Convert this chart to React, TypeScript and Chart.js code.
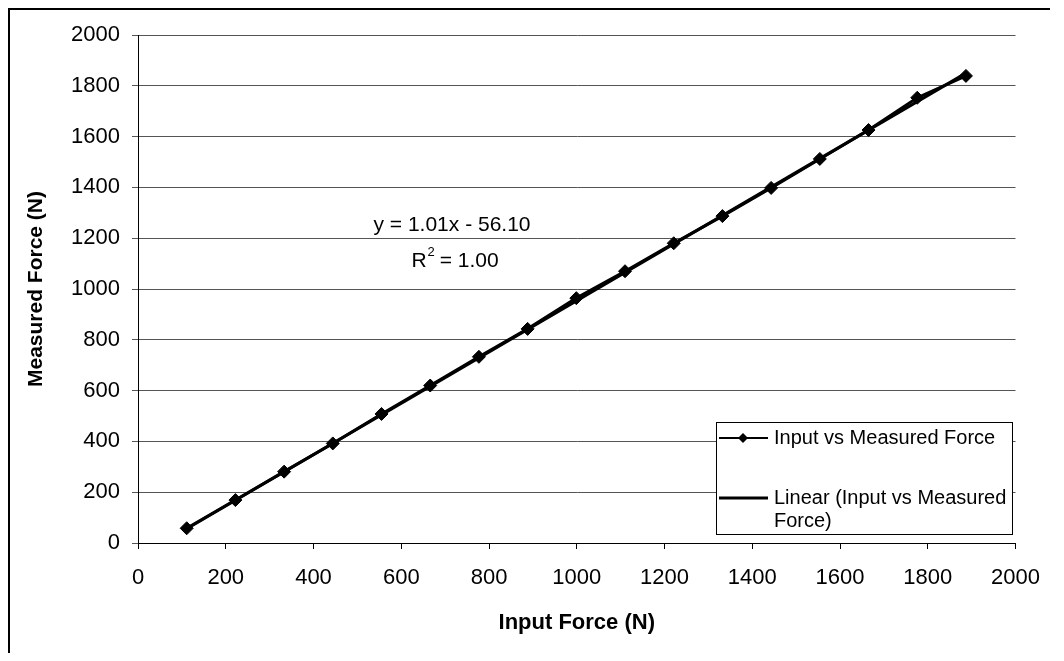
import React, { useEffect, useRef } from "react";
import { Chart, registerables } from "chart.js";

Chart.register(...registerables);

const inputForce = [111, 222, 333, 444, 555, 666, 777, 888, 999, 1110, 1221, 1332, 1443, 1554, 1665, 1776, 1887];
const measuredForce = [58, 169, 281, 392, 508, 620, 733, 843, 964, 1070, 1180, 1287, 1398, 1512, 1626, 1753, 1839];
const trendX = [111, 1887];
const trendY = [56, 1850];
const seriesLabel = "Input vs Measured Force";
const trendLabelLines = ["Linear (Input vs Measured", "Force)"];
const equationLines = ["y = 1.01x - 56.10", "R", "2", " = 1.00"];
const xTitle = "Input Force (N)";
const yTitle = "Measured Force (N)";
const axisMin = 0;
const axisMax = 2000;
const axisStep = 200;

const FONT = "'Liberation Sans', Arial, sans-serif";

const decorPlugin = {
  id: "decor",
  afterDraw(chart: any) {
    const ctx = chart.ctx as CanvasRenderingContext2D;
    ctx.save();
    // outer frame (top + left)
    ctx.strokeStyle = "#000";
    ctx.lineWidth = 2;
    ctx.beginPath();
    ctx.moveTo(1, chart.height);
    ctx.lineTo(1, 1);
    ctx.lineTo(1042, 1);
    ctx.stroke();

    // equation text
    ctx.fillStyle = "#000";
    ctx.font = `21px ${FONT}`;
    ctx.textAlign = "center";
    ctx.textBaseline = "middle";
    ctx.fillText(equationLines[0], 444, 217);
    // R^2 = 1.00 with superscript
    ctx.textAlign = "left";
    const wR = ctx.measureText(equationLines[1]).width;
    const wRest = ctx.measureText(equationLines[3]).width;
    ctx.font = `13px ${FONT}`;
    const wSup = ctx.measureText(equationLines[2]).width;
    const total = wR + wSup + wRest;
    let sx = 447 - total / 2;
    ctx.font = `21px ${FONT}`;
    ctx.fillText(equationLines[1], sx, 253);
    sx += wR;
    ctx.font = `13px ${FONT}`;
    ctx.fillText(equationLines[2], sx + 1, 244);
    sx += wSup;
    ctx.font = `21px ${FONT}`;
    ctx.fillText(equationLines[3], sx, 253);

    // legend box
    const bx = 708, by = 414, bw = 296, bh = 112;
    ctx.fillStyle = "#fff";
    ctx.fillRect(bx, by, bw, bh);
    ctx.strokeStyle = "#000";
    ctx.lineWidth = 1;
    ctx.strokeRect(bx + 0.5, by + 0.5, bw, bh);

    // entry 1
    ctx.lineWidth = 2;
    ctx.beginPath();
    ctx.moveTo(711, 430);
    ctx.lineTo(760, 430);
    ctx.stroke();
    ctx.fillStyle = "#000";
    ctx.beginPath();
    ctx.moveTo(735, 425);
    ctx.lineTo(740, 430);
    ctx.lineTo(735, 435);
    ctx.lineTo(730, 430);
    ctx.closePath();
    ctx.fill();
    // entry 2
    ctx.lineWidth = 3;
    ctx.beginPath();
    ctx.moveTo(711, 490);
    ctx.lineTo(760, 490);
    ctx.stroke();

    ctx.font = `20px ${FONT}`;
    ctx.textAlign = "left";
    ctx.textBaseline = "middle";
    ctx.fillText(seriesLabel, 766, 430);
    ctx.fillText(trendLabelLines[0], 766, 490);
    ctx.fillText(trendLabelLines[1], 766, 513);
    ctx.restore();
  },
};

export default function App() {
  const ref = useRef<HTMLCanvasElement | null>(null);
  useEffect(() => {
    if (!ref.current) return;
    const chart = new Chart(ref.current, {
      type: "scatter",
      data: {
        datasets: [
          {
            label: seriesLabel,
            data: inputForce.map((x, i) => ({ x, y: measuredForce[i] })),
            showLine: true,
            borderColor: "#000",
            backgroundColor: "#000",
            borderWidth: 3,
            pointStyle: "rectRot",
            pointRadius: 6.5,
            pointBorderWidth: 1,
          },
          {
            label: "Linear (Input vs Measured Force)",
            data: trendX.map((x, i) => ({ x, y: trendY[i] })),
            showLine: true,
            borderColor: "#000",
            borderWidth: 3,
            pointRadius: 0,
          },
        ],
      },
      options: {
        responsive: false,
        animation: false,
        layout: { padding: { top: 27, right: 39, left: 0, bottom: 0 } },
        plugins: {
          legend: { display: false },
          tooltip: { enabled: false },
        },
        scales: {
          x: {
            type: "linear",
            min: axisMin,
            max: axisMax,
            ticks: {
              stepSize: axisStep,
              color: "#000",
              font: { size: 22, family: FONT },
              padding: 16,
              maxRotation: 0,
              callback: (v: any) => String(v),
            },
            grid: { drawOnChartArea: false, drawTicks: true, tickLength: 6, color: "#000" },
            border: { color: "#000", width: 1 },
            title: {
              display: true,
              text: xTitle,
              color: "#000",
              font: { size: 22, weight: "bold", family: FONT },
              padding: { top: 0, bottom: 17 },
            },
            afterFit(scale: any) {
              scale.height = 110;
            },
          },
          y: {
            type: "linear",
            min: axisMin,
            max: axisMax,
            ticks: {
              stepSize: axisStep,
              color: "#000",
              font: { size: 22, family: FONT },
              padding: 12,
              callback: (v: any) => String(v),
            },
            grid: { color: "#555", tickLength: 6, drawTicks: true },
            border: { color: "#000", width: 1 },
            title: {
              display: true,
              text: yTitle,
              color: "#000",
              font: { size: 21, weight: "bold", family: FONT },
              padding: { top: 16, bottom: 0 },
            },
            afterFit(scale: any) {
              scale.width = 130;
            },
          },
        },
      },
      plugins: [decorPlugin],
    });
    return () => chart.destroy();
  }, []);
  return (
    <canvas
      ref={ref}
      width={1048}
      height={645}
      style={{ display: "block", width: "1048px", height: "645px" }}
    />
  );
}
